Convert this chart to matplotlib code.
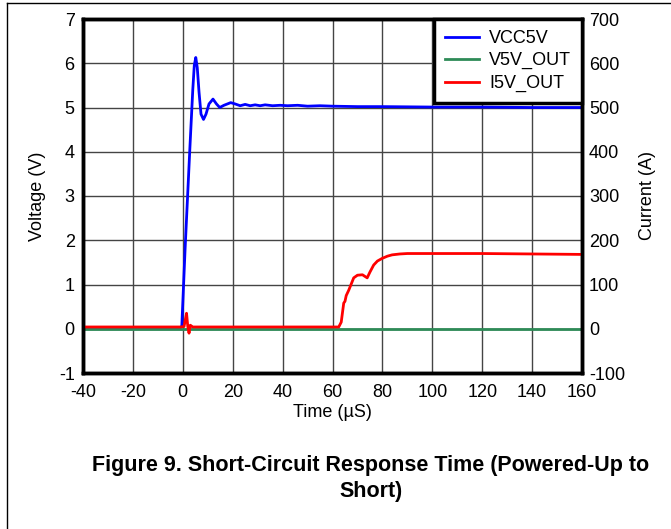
import matplotlib
matplotlib.use("Agg")
import matplotlib.pyplot as plt
from matplotlib.lines import Line2D

plt.rcParams.update({
    "font.family": ["Liberation Sans", "DejaVu Sans"],
    "font.size": 13,
    "axes.unicode_minus": False,
})

# VCC5V (V)
t_vcc = [-40, -1, -0.4, 0.9, 2.8, 4.0, 4.6, 5.2, 5.8, 6.5, 7.3, 8.3, 9.3,
         10.5, 12.1, 13.5, 14.8, 16.5, 19.2, 21, 23, 25, 27, 29, 31, 33,
         36, 39, 42, 46, 50, 55, 60, 70, 80, 100, 120, 140, 160]
vcc = [0.03, 0.03, 0.05, 1.78, 4.04, 5.4, 5.95, 6.13, 5.9, 5.35, 4.85, 4.73,
       4.85, 5.08, 5.19, 5.08, 5.0, 5.05, 5.11, 5.08, 5.04, 5.07, 5.04, 5.06,
       5.04, 5.06, 5.04, 5.05, 5.04, 5.05, 5.03, 5.04, 5.03, 5.02, 5.02,
       5.01, 5.01, 5.0, 5.0]

# V5V_OUT (V)
t_vout = [-40, 160]
vout = [0.0, 0.0]

# I5V_OUT (A)
t_iout = [-40, -1, 0.5, 1.0, 1.5, 2.0, 2.5, 3, 4, 62.5, 63.5, 64.5, 65, 65.5,
          66.5, 68.5, 70, 72, 73.9, 75, 76.5, 78, 79.9, 82, 83.9, 87, 90,
          100, 120, 140, 160]
iout = [4, 4, 5, 20, 35, 5, -10, 8, 4, 4, 15, 58, 62, 75, 87, 115, 121, 122,
        115, 128, 144, 153, 159, 164, 167, 169, 170, 170, 170, 169, 168]

fig = plt.figure(figsize=(6.71, 5.29), dpi=100)
ax = fig.add_axes([83 / 671, 1 - 373 / 529, 499 / 671, 354 / 529])
ax2 = ax.twinx()

l1, = ax.plot(t_vcc, vcc, color="#0000ff", lw=2.0, label="VCC5V")
l2, = ax.plot(t_vout, vout, color="#2e8b57", lw=2.0, label="V5V_OUT")
l3, = ax2.plot(t_iout, iout, color="#ff0000", lw=2.0, label="I5V_OUT")

ax.set_xlim(-40, 160)
ax.set_ylim(-1, 7)
ax2.set_ylim(-100, 700)
ax.set_xticks(range(-40, 161, 20))
ax.set_yticks(range(-1, 8))
ax2.set_yticks(range(-100, 701, 100))
ax.grid(True, color="#444444", lw=1.0)
ax.set_axisbelow(True)

for a in (ax, ax2):
    a.tick_params(length=0, labelsize=13)
    for s in a.spines.values():
        s.set_linewidth(2.5)
ax.tick_params(axis="x", pad=8)
ax.tick_params(axis="y", pad=6)
ax2.tick_params(axis="y", pad=5)

ax.set_xlabel("Time (µS)", fontsize=13, labelpad=2)
ax.set_ylabel("Voltage (V)", fontsize=13, labelpad=9)
ax2.set_ylabel("Current (A)", fontsize=13, labelpad=10)

leg = ax2.legend(handles=[l1, l2, l3], loc="upper right", fontsize=13,
                 fancybox=False, framealpha=1, edgecolor="black",
                 borderaxespad=0, handlelength=1.9, handletextpad=0.55,
                 labelspacing=0.3, borderpad=0.6)
leg.get_frame().set_linewidth(2.5)

fig.text(371 / 671, 1 - 466 / 529,
         "Figure 9. Short-Circuit Response Time (Powered-Up to",
         ha="center", va="center", fontsize=15.5, fontweight="bold")
fig.text(371 / 671, 1 - 492 / 529, "Short)",
         ha="center", va="center", fontsize=15.5, fontweight="bold")

# page frame lines
fig.add_artist(Line2D([7 / 671, 1], [1 - 3 / 529, 1 - 3 / 529],
                      transform=fig.transFigure, color="black", lw=1))
fig.add_artist(Line2D([7 / 671, 7 / 671], [0, 1 - 3 / 529],
                      transform=fig.transFigure, color="black", lw=1))

fig.savefig("out.png", dpi=100, facecolor="white")
